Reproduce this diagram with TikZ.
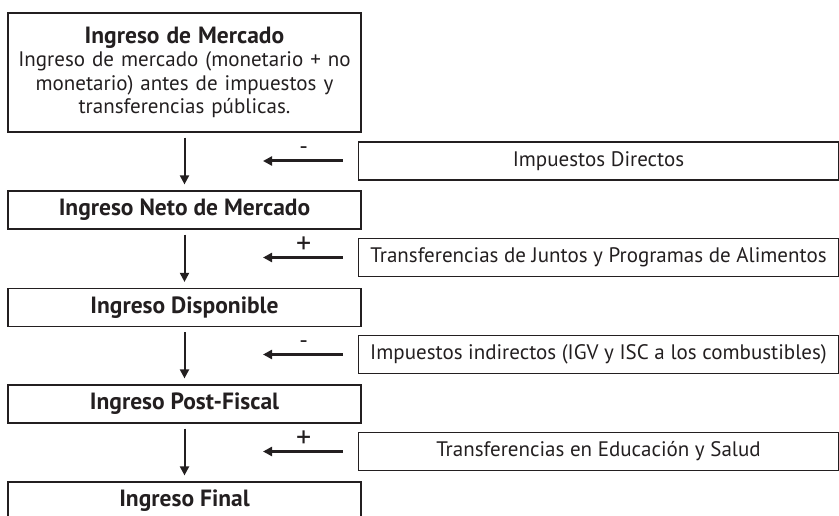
\documentclass[tikz,border=0pt]{standalone}
\usepackage{fontspec}
\setmainfont{PT Sans}
\usetikzlibrary{arrows.meta}
\definecolor{inkgray}{HTML}{231F20}

\begin{document}
\begin{tikzpicture}[x=1pt, y=1pt, >={Triangle[length=9pt, width=9pt]},
  topbox/.style={draw=inkgray, line width=1.2pt, minimum width=353pt, minimum height=119pt,
    text width=350pt, text depth=75pt, align=center, inner sep=0pt, text=inkgray, font=\fontsize{21}{23.4}\selectfont},
  stagebox/.style={draw=inkgray, line width=1.2pt, minimum width=353pt, minimum height=38pt,
    inner sep=0pt, text=inkgray, font=\fontsize{23.5}{22}\selectfont\bfseries},
  flowbox/.style={draw=inkgray, line width=1.2pt, minimum width=480pt, minimum height=38pt,
    inner sep=0pt, text=inkgray, font=\fontsize{21}{22}\selectfont},
  down/.style={->, line width=2pt, inkgray, shorten <=5pt, shorten >=6pt},
  feed/.style={->, line width=3pt, inkgray, shorten <=15pt},
  sign/.style={anchor=base, yshift=4pt, inner sep=0pt, text=inkgray, font=\fontsize{30}{30}\selectfont},
  minus/.style={sign, yshift=2pt, font=\fontsize{24}{24}\selectfont}]
  \useasboundingbox (0,0) rectangle (839,515);
  % Income stages
  \node[topbox] (mercado) at (184.5,442.5)
    {{\fontsize{23.5}{23.4}\selectfont\bfseries Ingreso de Mercado}\\ Ingreso de mercado (monetario + no\\ monetario) antes de impuestos y\\ transferencias públicas.};
  \node[stagebox] (neto) at (184.5,305) {Ingreso Neto de Mercado};
  \node[stagebox] (disponible) at (184.5,207.5) {Ingreso Disponible};
  \node[stagebox] (postfiscal) at (184.5,111) {Ingreso Post-Fiscal};
  \node[stagebox] (final) at (184.5,14) {Ingreso Final};
  % Fiscal flows
  \node[flowbox] (directos) at (598.5,354) {Impuestos Directos};
  \node[flowbox] (juntos) at (598.5,257.5) {Transferencias de Juntos y Programas de Alimentos};
  \node[flowbox] (indirectos) at (598.5,160.5) {Impuestos indirectos (IGV y ISC a los combustibles)};
  \node[flowbox] (educacion) at (598.5,63.5) {Transferencias en Educación y Salud};
  % Arrow tips of the flows
  \coordinate (tipA) at (263,354);
  \coordinate (tipB) at (263,257.5);
  \coordinate (tipC) at (263,160.5);
  \coordinate (tipD) at (263,63.5);
  % Downward arrows
  \draw[down] (mercado) -- (neto);
  \draw[down] (neto) -- (disponible);
  \draw[down] (disponible) -- (postfiscal);
  \draw[down] (postfiscal) -- (final);
  % Side arrows
  \draw[feed] (directos) -- (tipA) node[pos=0.57, minus] {-};
  \draw[feed] (juntos) -- (tipB) node[pos=0.57, sign] {+};
  \draw[feed] (indirectos) -- (tipC) node[pos=0.57, minus] {-};
  \draw[feed] (educacion) -- (tipD) node[pos=0.57, sign] {+};
\end{tikzpicture}
\end{document}
